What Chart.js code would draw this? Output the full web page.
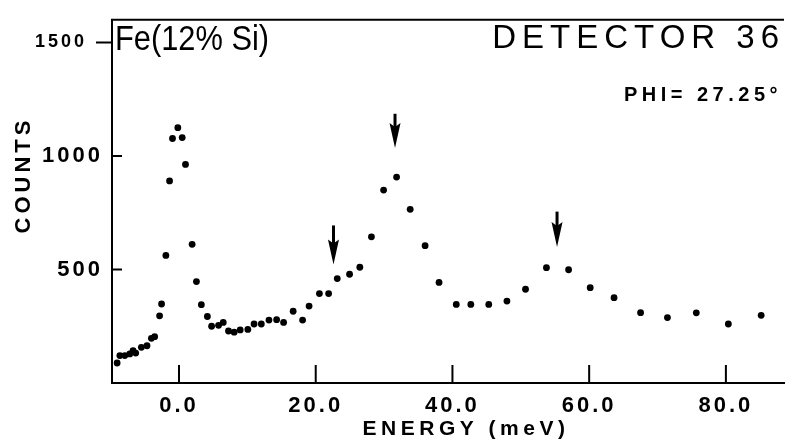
<!DOCTYPE html>
<html>
<head>
<meta charset="utf-8">
<script src="https://cdn.jsdelivr.net/npm/chart.js@4/dist/chart.umd.min.js"></script>
<style>
  html, body { margin: 0; padding: 0; background: #fff; }
  #wrap { width: 788px; height: 441px; }
</style>
</head>
<body>
<div id="wrap"><canvas id="chart" width="788" height="441"></canvas></div>
<script>
// energy transfer (meV) and counts
const energy = [-9.05, -8.65, -7.93, -7.2, -6.72, -6.33, -5.5, -4.68, -4.04, -3.56,
  -2.84, -2.55, -1.92, -1.38, -0.95, -0.17, 0.47, 0.95, 1.92, 2.55,
  3.27, 4.15, 4.77, 5.79, 6.47, 7.24, 8.07, 8.95, 10.07, 10.98,
  12.04, 13.16, 14.28, 15.3, 16.7, 18.08, 19.03, 20.54, 21.89, 23.15,
  24.95, 26.45, 28.15, 29.93, 31.83, 33.82, 36.0, 38.04, 40.56, 42.69,
  45.31, 47.97, 50.69, 53.75, 56.99, 60.15, 63.64, 67.52, 71.45, 75.67,
  80.36, 85.16];
const counts = [88, 121, 121, 128, 142, 132, 157, 164, 197, 204,
  296, 348, 562, 890, 1077, 1125, 1081, 963, 611, 447,
  345, 293, 250, 254, 267, 229, 224, 234, 236, 260,
  260, 277, 279, 267, 316, 277, 339, 394, 394, 460,
  479, 510, 644, 850, 907, 765, 605, 443, 346, 346,
  346, 361, 413, 508, 499, 420, 376, 310, 288, 309,
  260, 298];
const xTicks = [0, 20, 40, 60, 80];
const yTicks = [500, 1000, 1500];

// arrows marking the phonon peaks (energy, top of shaft, tip) in data units
const arrowEnergy = [22.6, 31.6, 55.3];
const arrowTop = [694, 1186, 755];
const arrowTip = [522, 1035, 599];

const FONT = "'Liberation Sans', Arial, sans-serif";

const frame = {
  id: "frame",
  beforeDraw(chart) {
    chart.ctx.letterSpacing = "3px";
  },
  afterDraw(chart) {
    const { ctx, chartArea: a, scales: { x, y } } = chart;
    ctx.save();
    ctx.letterSpacing = "0px";
    ctx.strokeStyle = "#000";
    ctx.fillStyle = "#000";
    ctx.lineWidth = 2;

    // top frame line + tick marks (inward, the top one sticks out)
    ctx.beginPath();
    ctx.moveTo(a.left - 1, a.top);
    ctx.lineTo(a.right, a.top);
    xTicks.forEach(v => {
      const px = x.getPixelForValue(v);
      ctx.moveTo(px, a.bottom);
      ctx.lineTo(px, a.bottom - 18);
    });
    yTicks.forEach(v => {
      const py = y.getPixelForValue(v);
      ctx.moveTo(a.left, py);
      ctx.lineTo(v === 1500 ? a.left - 16 : a.left + 10, py);
    });
    ctx.stroke();

    // arrows
    arrowEnergy.forEach((e, i) => {
      const px = x.getPixelForValue(e);
      const top = y.getPixelForValue(arrowTop[i]);
      const tip = y.getPixelForValue(arrowTip[i]);
      ctx.lineWidth = 3;
      ctx.beginPath();
      ctx.moveTo(px, top);
      ctx.lineTo(px, tip - 18);
      ctx.stroke();
      ctx.beginPath();
      ctx.moveTo(px - 5.5, tip - 25);
      ctx.lineTo(px, tip - 21);
      ctx.lineTo(px + 5.5, tip - 25);
      ctx.lineTo(px, tip);
      ctx.closePath();
      ctx.fill();
    });

    // labels
    ctx.textBaseline = "alphabetic";
    ctx.font = "35px " + FONT;
    ctx.save();
    ctx.translate(115, 50);
    ctx.scale(0.88, 1);
    ctx.fillText("Fe(12% Si)", 0, 0);
    ctx.restore();

    ctx.textAlign = "right";
    ctx.font = "33px " + FONT;
    ctx.letterSpacing = "6px";
    ctx.fillText("DETECTOR 36", 785, 48);

    ctx.font = "bold 20px " + FONT;
    ctx.letterSpacing = "4.5px";
    ctx.fillText("PHI= 27.25°", 782, 101);

    ctx.textAlign = "center";
    ctx.textBaseline = "middle";
    ctx.font = "bold 21px " + FONT;
    ctx.letterSpacing = "4.5px";
    ctx.fillText("ENERGY (meV)", 466, 429);

    ctx.save();
    ctx.translate(24, 177);
    ctx.rotate(-Math.PI / 2);
    ctx.font = "bold 22px " + FONT;
    ctx.letterSpacing = "4px";
    ctx.fillText("COUNTS", 2, 0);
    ctx.restore();

    ctx.restore();
  }
};

new Chart(document.getElementById("chart"), {
  type: "scatter",
  data: {
    datasets: [{
      data: energy.map((e, i) => ({ x: e, y: counts[i] })),
      pointRadius: 3.4,
      pointBackgroundColor: "#000",
      pointBorderWidth: 0,
      showLine: false
    }]
  },
  options: {
    responsive: false,
    animation: false,
    layout: { padding: { top: 12, right: 0, bottom: 0, left: 0 } },
    plugins: { legend: { display: false }, tooltip: { enabled: false } },
    scales: {
      x: {
        type: "linear",
        min: -9.8,
        max: 88.5,
        afterFit: s => { s.height = 58; },
        afterBuildTicks: s => { s.ticks = xTicks.map(v => ({ value: v })); },
        ticks: {
          padding: 10,
          color: "#000",
          maxRotation: 0,
          autoSkip: false,
          font: { family: FONT, size: 22, weight: "bold" },
          callback: v => v.toFixed(1)
        },
        grid: { display: true, drawOnChartArea: false, drawTicks: false },
        border: { display: true, color: "#000", width: 2 }
      },
      y: {
        min: 0,
        max: 1600,
        afterFit: s => { s.width = 112; },
        afterBuildTicks: s => { s.ticks = yTicks.map(v => ({ value: v })); },
        ticks: {
          padding: 9,
          color: "#000",
          autoSkip: false,
          font: c => ({ family: FONT, size: c.tick && c.tick.value === 1500 ? 18 : 22, weight: "bold" }),
          // the top label sits left of its outward tick
          callback: v => v === 1500 ? "1500  " : String(v)
        },
        grid: { display: true, drawOnChartArea: false, drawTicks: false },
        border: { display: true, color: "#000", width: 2 }
      }
    }
  },
  plugins: [frame]
});
</script>
</body>
</html>
